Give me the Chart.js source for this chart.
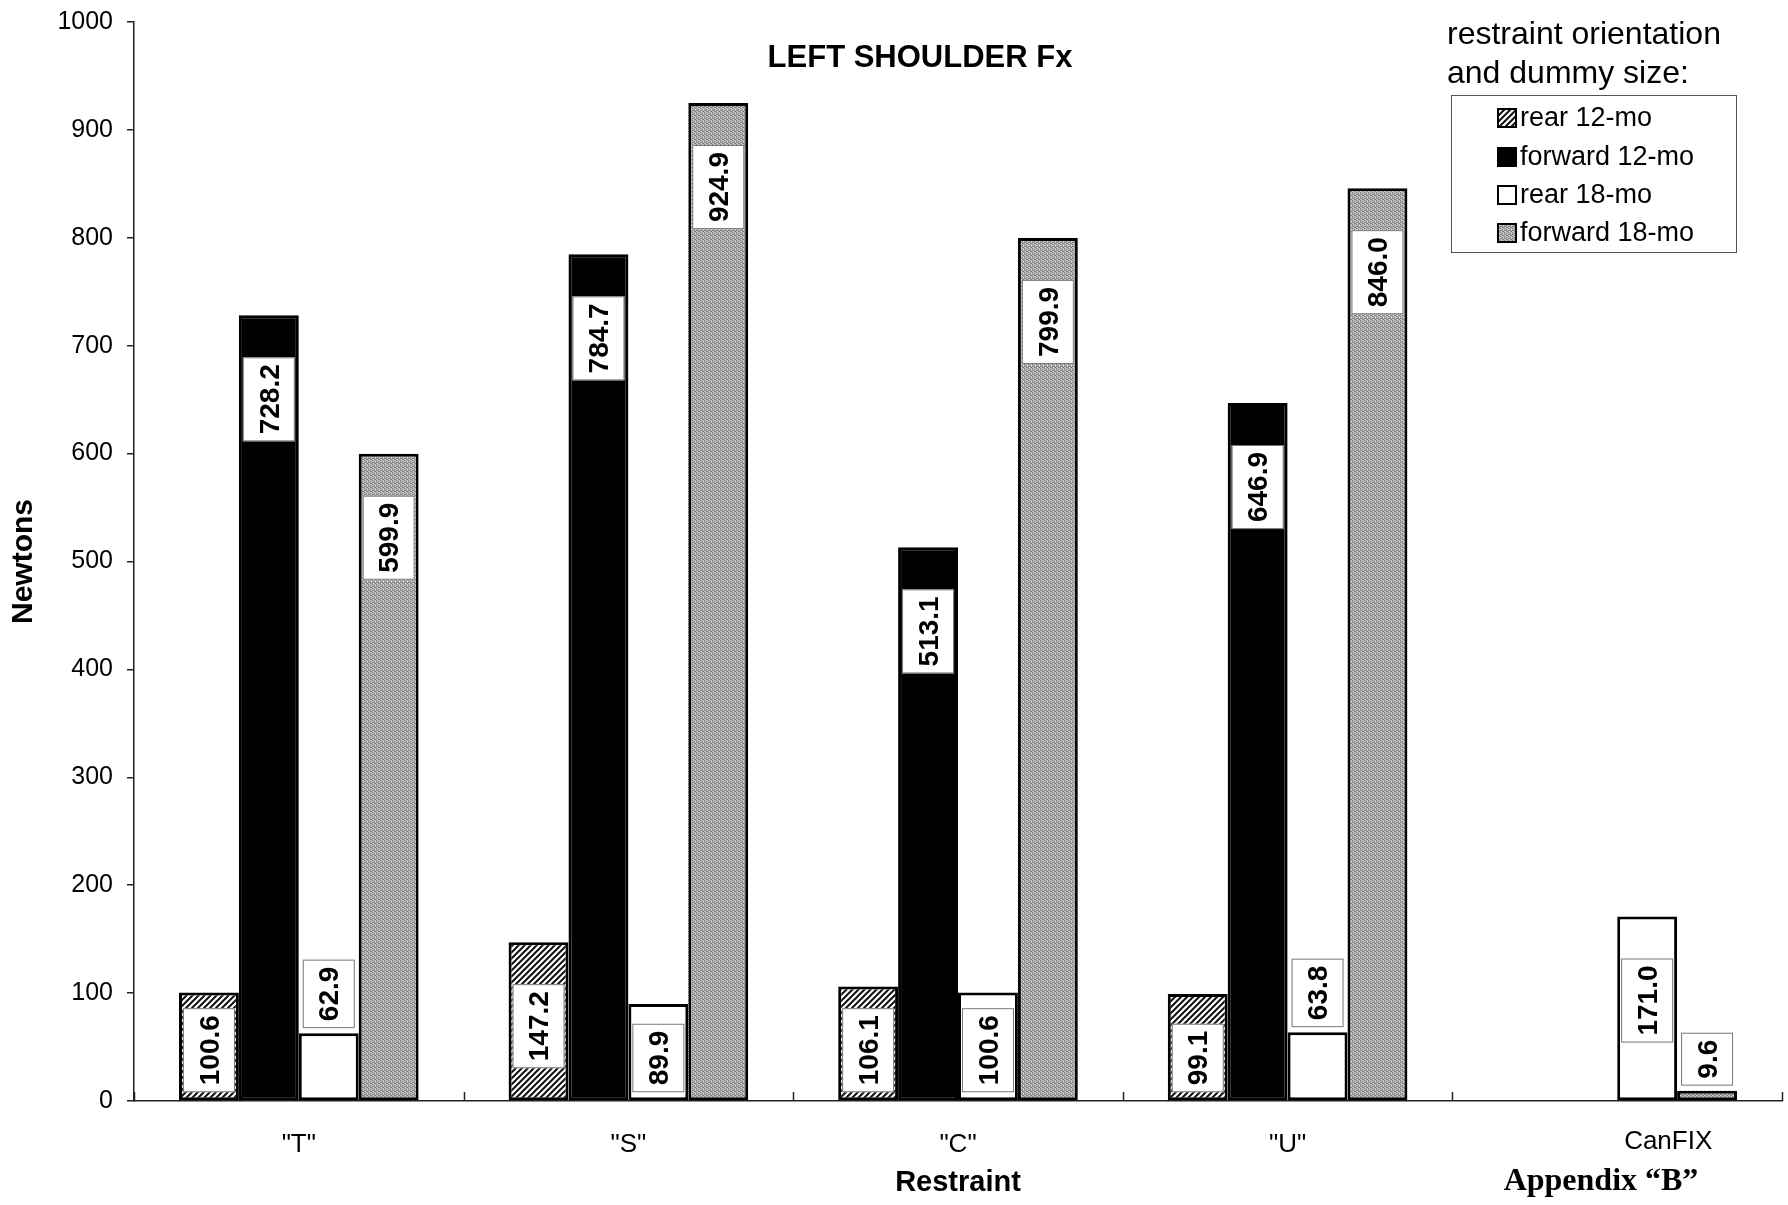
<!DOCTYPE html>
<html>
<head>
<meta charset="utf-8">
<script src="https://cdn.jsdelivr.net/npm/chart.js@4/dist/chart.umd.min.js"></script>
<style>
  html, body { margin: 0; padding: 0; background: #fff; }
  #wrap { width: 1788px; height: 1205px; }
</style>
</head>
<body>
<div id="wrap"><canvas id="shoulderChart" width="1788" height="1205"></canvas></div>
<script>
// values
const categories = ['"T"', '"S"', '"C"', '"U"', "CanFIX"];
const rear12 = [100.6, 147.2, 106.1, 99.1, null];
const forward12 = [728.2, 784.7, 513.1, 646.9, null];
const rear18 = [62.9, 89.9, 100.6, 63.8, 171.0];
const forward18 = [599.9, 924.9, 799.9, 846.0, 9.6];
const seriesNames = ["rear 12-mo", "forward 12-mo", "rear 18-mo", "forward 18-mo"];

const FONT = '"Liberation Sans", Arial, Helvetica, sans-serif';

//hatched fill for rear 12-mo
function makeHatch() {
    const c = document.createElement("canvas");
    c.width = 6; c.height = 6;
    const g = c.getContext("2d");
    g.fillStyle = "#fff";
    g.fillRect(0, 0, 6, 6);
    g.strokeStyle = "#111";
    g.lineWidth = 2;
    g.beginPath();
    g.moveTo(-1, 7); g.lineTo(7, -1);
    g.moveTo(-4, 4); g.lineTo(4, -4);
    g.moveTo(2, 10); g.lineTo(10, 2);
    g.stroke();
    return g.createPattern(c, "repeat");
}

//stippled grey fill for forward 18-mo
function makeStipple() {
    const c = document.createElement("canvas");
    c.width = 4; c.height = 4;
    const g = c.getContext("2d");
    g.fillStyle = "#b8b8b8";
    g.fillRect(0, 0, 4, 4);
    g.fillStyle = "#7a7a7a";
    const dots = [[0, 0], [2, 1], [1, 2], [3, 3], [2, 3], [0, 2]];
    dots.forEach(d => g.fillRect(d[0], d[1], 1, 1));
    g.fillStyle = "#e0e0e0";
    g.fillRect(3, 1, 1, 1);
    g.fillRect(1, 3, 1, 1);
    return g.createPattern(c, "repeat");
}

const fills = [makeHatch(), "#000", "#fff", makeStipple()];

//value boxes, rotated, like the excel labels
const valueBoxes = {
    id: "valueBoxes",
    afterDatasetsDraw(chart) {
        const ctx = chart.ctx;
        ctx.save();
        ctx.font = "bold 28px " + FONT;
        chart.data.datasets.forEach((ds, di) => {
            const meta = chart.getDatasetMeta(di);
            meta.data.forEach((bar, i) => {
                const v = ds.data[i];
                if (v === null || v === undefined) return;
                const txt = v.toFixed(1);
                const tw = ctx.measureText(txt).width;
                const boxH = tw + 14;
                const boxW = 52;
                const top = bar.y, base = bar.base;
                let boxTop;
                if (base - top >= boxH + 20) {
                    boxTop = Math.min(top + 42, base - 8 - boxH);
                } else {
                    boxTop = top - 5 - boxH;
                }
                ctx.fillStyle = "#fff";
                ctx.fillRect(bar.x - boxW / 2, boxTop, boxW, boxH);
                ctx.strokeStyle = "#777";
                ctx.lineWidth = 1;
                ctx.strokeRect(bar.x - boxW / 2 + 0.5, boxTop + 0.5, boxW - 1, boxH - 1);
                ctx.save();
                ctx.translate(bar.x + 1, boxTop + boxH / 2);
                ctx.rotate(-Math.PI / 2);
                ctx.fillStyle = "#000";
                ctx.textAlign = "center";
                ctx.textBaseline = "middle";
                ctx.fillText(txt, 0, 1);
                ctx.restore();
            });
        });
        ctx.restore();
    }
};

//title, legend, x ticks, appendix note
const extras = {
    id: "extras",
    afterDraw(chart) {
        const ctx = chart.ctx;
        const area = chart.chartArea;
        const xs = chart.scales.x;
        ctx.save();

        // upward ticks between categories
        ctx.strokeStyle = "#222";
        ctx.lineWidth = 1.5;
        for (let i = 0; i <= categories.length; i++) {
            const px = Math.round(xs.getPixelForValue(i - 0.5)) + 0.5;
            ctx.beginPath();
            ctx.moveTo(px, area.bottom);
            ctx.lineTo(px, area.bottom - 9);
            ctx.stroke();
        }

        // CanFIX label sits right of its group in the original
        const last = categories.length - 1;
        ctx.fillStyle = "#000";
        ctx.font = "26px " + FONT;
        ctx.textAlign = "center";
        ctx.textBaseline = "middle";
        ctx.fillText(categories[last], xs.getPixelForValue(last) + 51, 1142);

        // chart title inside the plot
        ctx.font = "bold 31px " + FONT;
        ctx.fillText("LEFT SHOULDER Fx", area.left + 786, 58);

        // legend
        ctx.textAlign = "left";
        ctx.font = "32px " + FONT;
        ctx.fillText("restraint orientation", 1447, 35);
        ctx.fillText("and dummy size:", 1447, 74);
        ctx.strokeStyle = "#555";
        ctx.lineWidth = 1;
        ctx.strokeRect(1451.5, 95.5, 285, 157);
        ctx.font = "27px " + FONT;
        const rows = [118, 157, 195, 233];
        seriesNames.forEach((name, k) => {
            ctx.fillStyle = fills[k];
            ctx.fillRect(1497, rows[k] - 10, 20, 20);
            ctx.strokeStyle = "#000";
            ctx.lineWidth = 2;
            ctx.strokeRect(1498, rows[k] - 9, 18, 18);
            ctx.fillStyle = "#000";
            ctx.fillText(name, 1520, rows[k] + 1);
        });

        // appendix note
        ctx.font = "bold 32px \"Liberation Serif\", \"Times New Roman\", serif";
        ctx.textAlign = "center";
        ctx.fillText("Appendix \u201cB\u201d", 1601, 1182);
        ctx.restore();
    }
};

const ctx = document.getElementById("shoulderChart").getContext("2d");
const shoulderChart = new Chart(ctx, {
    type: "bar",
    data: {
        labels: categories,
        datasets: [rear12, forward12, rear18, forward18].map((vals, k) => ({
            label: seriesNames[k],
            data: vals,
            backgroundColor: fills[k],
            borderColor: "#000",
            borderWidth: 3,
            borderSkipped: false,
            categoryPercentage: 0.727,
            barPercentage: 1.0,
        })),
    },
    options: {
        responsive: false,
        animation: false,
        devicePixelRatio: 1,
        layout: { padding: { left: 0, top: 22, right: 6, bottom: 0 } },
        plugins: {
            legend: { display: false },
            tooltip: { enabled: false },
        },
        scales: {
            x: {
                offset: true,
                grid: { display: false, drawTicks: false },
                border: { display: true, color: "#222", width: 1.5 },
                ticks: {
                    color: "#000",
                    font: { family: FONT, size: 26 },
                    padding: 28,
                    callback: (v, i) => (i === categories.length - 1 ? "" : categories[i]),
                },
                title: {
                    display: true,
                    text: "Restraint",
                    color: "#000",
                    font: { family: FONT, size: 29, weight: "bold" },
                    padding: { top: 0, bottom: 5 },
                },
                afterFit(scale) { scale.height = 104; },
            },
            y: {
                min: 0,
                max: 1000,
                ticks: {
                    stepSize: 100,
                    color: "#000",
                    font: { family: FONT, size: 25 },
                    padding: 14,
                    callback: v => String(v),
                },
                grid: { drawOnChartArea: false, drawTicks: true, tickLength: 7, color: "#222", lineWidth: 1.5 },
                border: { display: true, color: "#222", width: 1.5 },
                title: {
                    display: true,
                    text: "Newtons",
                    color: "#000",
                    font: { family: FONT, size: 30, weight: "bold" },
                    padding: { top: 6, bottom: 0 },
                },
                afterFit(scale) {
                    scale.width = 134;
                    scale.paddingTop = 0;
                    scale.paddingBottom = 0;
                },
            },
        },
    },
    plugins: [valueBoxes, extras],
});
</script>
</body>
</html>
